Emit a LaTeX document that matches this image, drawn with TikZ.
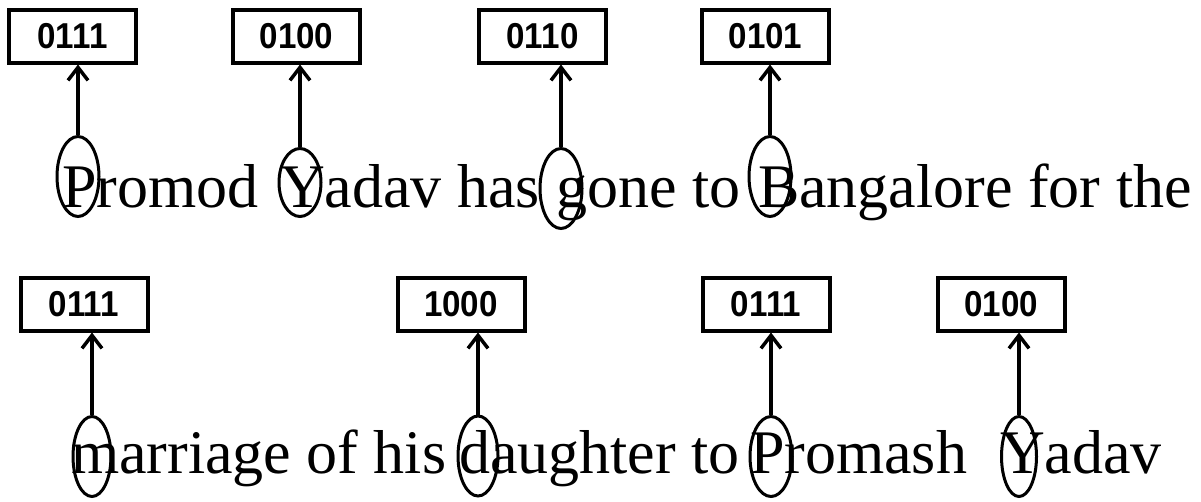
\documentclass[tikz,border=0pt]{standalone}
\usepackage{fontspec}
\usepackage{graphicx}
\setmainfont{Liberation Serif}
\newfontfamily\codefont{Liberation Sans}
\newcommand{\narrowdigits}[1]{\scalebox{0.92}[1]{#1}}
\usetikzlibrary{arrows.meta,positioning,shapes.geometric}

\begin{document}
\begin{tikzpicture}[
  x=1pt,y=-1pt,
  code/.style={draw=black,line width=4pt,rectangle,inner sep=0pt,
    minimum width=127pt,minimum height=53pt,
    font=\codefont\bfseries\fontsize{36}{36}\selectfont},
  word/.style={inner sep=0pt,outer sep=0pt,anchor=base west,
    font=\fontsize{62}{62}\selectfont},
  ring/.style={draw=black,line width=3pt,ellipse,inner sep=0pt,
    minimum width=42pt,minimum height=80pt},
  arrow/.style={-{Straight Barb[length=13pt,width=20pt]},line width=3.5pt}
]
  \useasboundingbox (0,0) rectangle (1201,501);

  % first line
  \node[code] (c1) at (72.5,36) {\narrowdigits{0111}};
  \node[code] (c2) at (296.5,36) {\narrowdigits{0100}};
  \node[code] (c3) at (542.5,36) {\narrowdigits{0110}};
  \node[code] (c4) at (765.5,36) {\narrowdigits{0101}};

  \node[word] (p1) at (62,207) {P};
  \node[word] (t1) at (p1.base east) {romod};
  \node[word] (y1) at (280,207) {Y};
  \node[word] (t2) at (y1.base east) {adav has};
  \node[word] (g1) at (556,207) {g};
  \node[word] (t3) at (g1.base east) {one to};
  \node[word] (b1) at (758,207) {B};
  \node[word] (t4) at (b1.base east) {angalore for the};

  \node[ring] (r1) at (78,176.5) {};
  \node[ring,minimum height=68pt] (r2) at (300,182.5) {};
  \node[ring] (r3) at (561,188.5) {};
  \node[ring] (r4) at (770,176.5) {};

  \draw[arrow] (r1.north) -- (r1.north |- c1.south);
  \draw[arrow] (r2.north) -- (r2.north |- c2.south);
  \draw[arrow] (r3.north) -- (r3.north |- c3.south);
  \draw[arrow] (r4.north) -- (r4.north |- c4.south);

  % second line
  \node[code] (c5) at (84,304) {\narrowdigits{0111}};
  \node[code] (c6) at (461,304) {\narrowdigits{1000}};
  \node[code] (c7) at (766,304) {\narrowdigits{0111}};
  \node[code] (c8) at (1001,304) {\narrowdigits{0100}};

  \node[word] (m2) at (71,473) {m};
  \node[word] (t5) at (m2.base east) {arriage of his};
  \node[word] (d2) at (459,473) {d};
  \node[word] (t6) at (d2.base east) {aughter to};
  \node[word] (p2) at (750,473) {P};
  \node[word] (t7) at (p2.base east) {romash};
  \node[word] (y2) at (1000,473) {Y};
  \node[word] (t8) at (y2.base east) {adav};

  \node[ring,minimum width=38pt] (r5) at (92,456.5) {};
  \node[ring,minimum width=40pt] (r6) at (478,456) {};
  \node[ring] (r7) at (771,456.5) {};
  \node[ring,minimum width=35pt] (r8) at (1019,456.5) {};

  \draw[arrow] (r5.north) -- (r5.north |- c5.south);
  \draw[arrow] (r6.north) -- (r6.north |- c6.south);
  \draw[arrow] (r7.north) -- (r7.north |- c7.south);
  \draw[arrow] (r8.north) -- (r8.north |- c8.south);
\end{tikzpicture}
\end{document}
